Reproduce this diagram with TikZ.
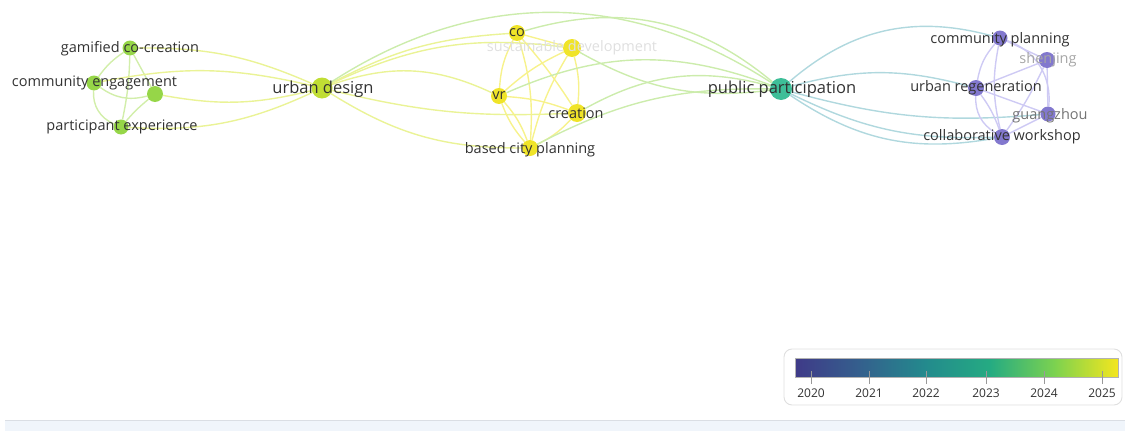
\documentclass[tikz,border=0pt]{standalone}
\usepackage{fontspec}
\setmainfont{Open Sans}
\pgfdeclarelayer{bg}
\pgfsetlayers{bg,main}
\definecolor{cG}{RGB}{150,214,72}
\definecolor{cUD}{RGB}{192,222,52}
\definecolor{cY}{RGB}{240,228,40}
\definecolor{cPP}{RGB}{62,190,152}
\definecolor{cPU}{RGB}{130,120,206}
\definecolor{eG}{RGB}{210,238,170}
\definecolor{eY}{RGB}{234,243,150}
\definecolor{eYI}{RGB}{247,242,140}
\definecolor{eYP}{RGB}{204,236,172}
\definecolor{ePP}{RGB}{176,216,222}
\definecolor{ePU}{RGB}{206,202,244}
\definecolor{txt}{RGB}{50,50,50}
\definecolor{v0}{RGB}{63,58,136}
\definecolor{v1}{RGB}{52,96,141}
\definecolor{v2}{RGB}{35,138,141}
\definecolor{v3}{RGB}{37,171,130}
\definecolor{v4}{RGB}{125,210,79}
\definecolor{v5}{RGB}{244,230,30}
\begin{document}
\begin{tikzpicture}[x=1pt,y=1pt,
  nd/.style={circle,inner sep=0pt,draw=none},
  lab/.style={text=txt,inner sep=0pt,font=\fontsize{14.5}{17}\selectfont},
  biglab/.style={text=txt,inner sep=0pt,font=\fontsize{16.5}{19}\selectfont},
  edge/.style={line width=1.4pt},
  tick/.style={draw=gray!80,line width=0.9pt},
  yr/.style={text=txt,inner sep=0pt,font=\fontsize{12}{14}\selectfont}]
\useasboundingbox (0,0) rectangle (1125,-431);
% nodes
\node[nd,fill=cG,minimum size=15pt] (gam) at (130,-48) {};
\node[nd,fill=cG,minimum size=15pt] (ce) at (94,-83) {};
\node[nd,fill=cG,minimum size=16pt] (th) at (155,-94) {};
\node[nd,fill=cG,minimum size=15pt] (pe) at (121,-127) {};
\node[nd,fill=cUD,minimum size=21pt] (ud) at (322,-88) {};
\node[nd,fill=cY,minimum size=16pt] (co) at (517,-33) {};
\node[nd,fill=cY,minimum size=18pt] (sd) at (572,-48) {};
\node[nd,fill=cY,minimum size=16pt] (vr) at (499,-96) {};
\node[nd,fill=cY,minimum size=18pt] (cr) at (577,-113) {};
\node[nd,fill=cY,minimum size=16pt] (bc) at (530,-148) {};
\node[nd,fill=cPP,minimum size=22pt] (pp) at (781,-89) {};
\node[nd,fill=cPU,minimum size=15pt] (cp) at (1000,-38) {};
\node[nd,fill=cPU,minimum size=16pt] (sj) at (1047,-60) {};
\node[nd,fill=cPU,minimum size=16pt] (ur) at (976,-88) {};
\node[nd,fill=cPU,minimum size=15pt] (gz) at (1048,-114) {};
\node[nd,fill=cPU,minimum size=16pt] (cw) at (1002,-137) {};
% edges
\begin{pgfonlayer}{bg}
\begin{scope}[edge,draw=eG]
\draw (gam) to[bend right=10] (ce);
\draw (gam) to[bend left=5] (pe);
\draw (gam) to (th);
\draw (ce) to[bend right=35] (pe);
\draw (ce) to[bend right=25] (th);
\draw (pe) to[bend left=5] (th);
\end{scope}
\begin{scope}[edge,draw=eY]
\draw (gam) to[bend left=12] (ud);
\draw (ce) to[bend left=12] (ud);
\draw (th) to[bend right=12] (ud);
\draw (pe) to[bend right=14] (ud);
\draw (ud) to[bend left=12] (co);
\draw (ud) to[bend left=16] (sd);
\draw (ud) to[bend left=22] (vr);
\draw (ud) to[bend right=8] (cr);
\draw (ud) to[bend right=16] (bc);
\end{scope}
\begin{scope}[edge,draw=eYI]
\draw (co) to[bend right=12] (vr);
\draw (co) to[bend left=4] (cr);
\draw (co) to[bend left=10] (bc);
\draw (co) to (sd);
\draw (sd) to[bend right=8] (vr);
\draw (sd) to[bend left=10] (cr);
\draw (sd) to[bend right=8] (bc);
\draw (vr) to[bend left=8] (cr);
\draw (vr) to[bend left=10] (bc);
\draw (vr) to[bend right=10] (bc);
\draw (cr) to[bend left=10] (bc);
\end{scope}
\begin{scope}[edge,draw=eYP]
\draw (ud) to[bend left=33] (pp);
\draw (co) to[bend left=28] (pp);
\draw (vr) to[bend left=22] (pp);
\draw (sd) to[bend right=18] (pp);
\draw (cr) to[bend left=22] (pp);
\draw (bc) to[bend left=14] (pp);
\end{scope}
\begin{scope}[edge,draw=ePP]
\draw (pp) to[bend left=28] (cp);
\draw (pp) to[bend left=15] (ur);
\draw (pp) to[bend right=10] (gz);
\draw (pp) to[bend right=14] (cw);
\draw (pp) to[bend right=22] (cw);
\end{scope}
\begin{scope}[edge,draw=ePU]
\draw (cp) to[bend right=15] (ur);
\draw (cp) to (sj);
\draw (cp) to[bend left=38] (gz);
\draw (cp) to[bend right=12] (cw);
\draw (ur) to (sj);
\draw (ur) to (gz);
\draw (ur) to[bend right=30] (cw);
\draw (ur) to[bend left=8] (cw);
\draw (sj) to (gz);
\draw (sj) to[bend left=5] (cw);
\draw (gz) to (cw);
\end{scope}
\end{pgfonlayer}
% labels
\node[lab] (lgam) at (130,-49) {gamified co-creation};
\node[lab] (lce) at (94.5,-83) {community engagement};
\node[lab] (lpe) at (122,-127) {participant experience};
\node[biglab] (lud) at (323,-89) {urban design};
\node[lab] (lco) at (517,-33) {co};
\node[lab,text=gray!25] (lsd) at (572,-48) {sustainable development};
\node[lab] (lvr) at (499,-96) {vr};
\node[lab] (lcr) at (576,-113) {creation};
\node[lab] (lbc) at (530,-150) {based city planning};
\node[biglab] (lpp) at (782,-89) {public participation};
\node[lab] (lcp) at (1000,-40) {community planning};
\node[lab,text=gray!70] (lsj) at (1048,-60) {shenjing};
\node[lab] (lur) at (976,-88) {urban regeneration};
\node[lab,text=gray!90!black] (lgz) at (1050,-116) {guangzhou};
\node[lab] (lcw) at (1002,-137) {collaborative workshop};
% legend
\draw[draw=gray!25,line width=0.9pt,rounded corners=8pt,fill=white] (784,-349) rectangle (1122,-405);
\shade[left color=v0,right color=v1] (795,-358) rectangle (860.5,-377);
\shade[left color=v1,right color=v2] (860,-358) rectangle (925.5,-377);
\shade[left color=v2,right color=v3] (925,-358) rectangle (990.5,-377);
\shade[left color=v3,right color=v4] (990,-358) rectangle (1055.5,-377);
\shade[left color=v4,right color=v5] (1055,-358) rectangle (1118,-377);
\draw[draw=gray!60,line width=0.6pt] (795,-358) rectangle (1118,-377);
\foreach \xx/\yy in {811/2020,869/2021,926/2022,986/2023,1044/2024,1102/2025}{
  \draw[tick] (\xx,-371) -- (\xx,-384);
  \node[yr] at (\xx,-393) {\yy};
}
% bottom strip
\fill[fill={rgb,255:red,240;green,245;blue,251}] (5,-420) rectangle (1125,-431);
\draw[draw={rgb,255:red,218;green,222;blue,228},line width=0.8pt] (5,-420) -- (1125,-420);
\end{tikzpicture}
\end{document}
